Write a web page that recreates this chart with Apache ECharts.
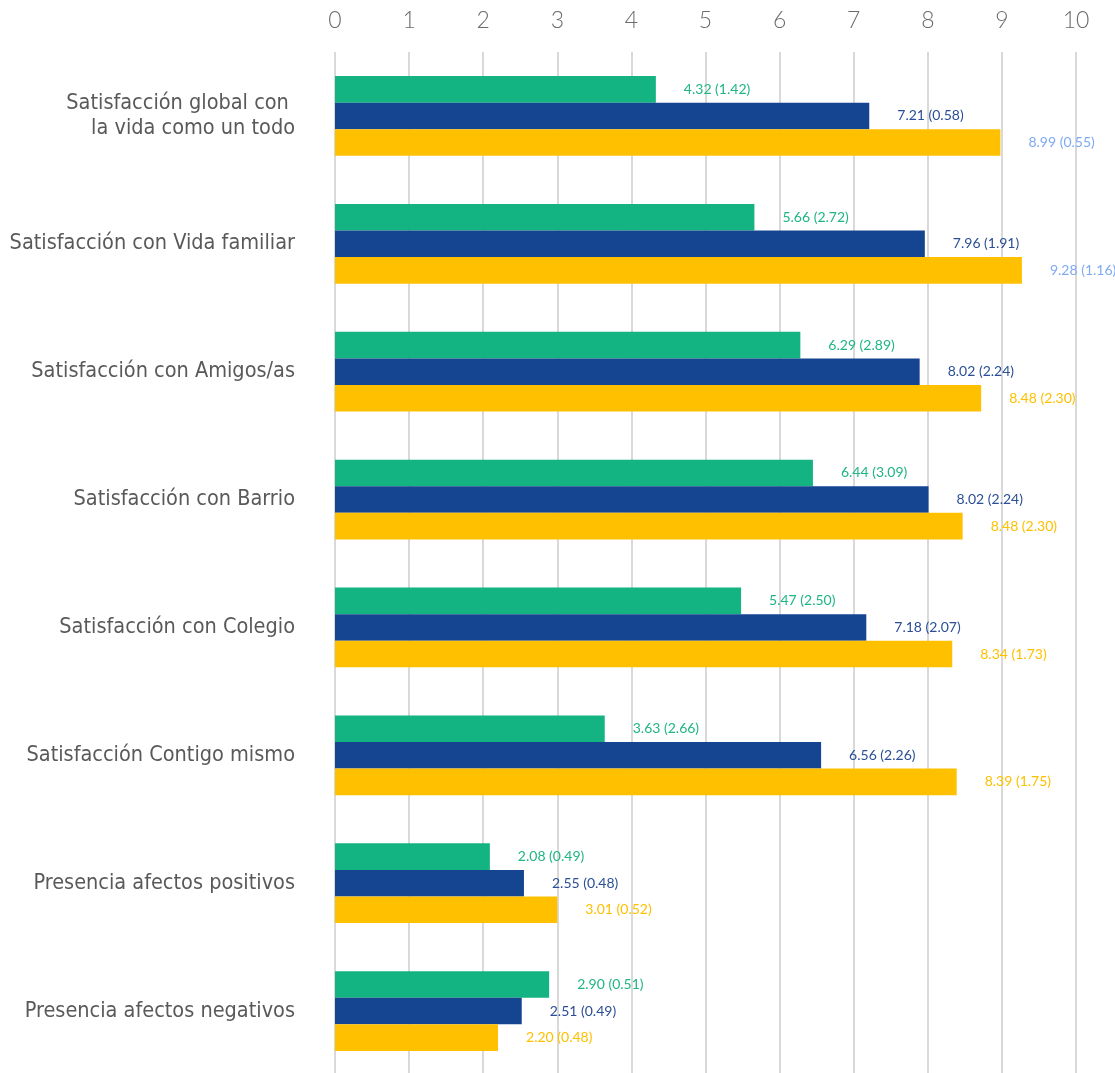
<!DOCTYPE html>
<html><head><meta charset="utf-8">
<script src="https://cdn.jsdelivr.net/npm/echarts@6/dist/echarts.min.js"></script>
<style>html,body{margin:0;padding:0;background:#fff}#c{width:1115px;height:1073px}</style>
</head><body><div id="c"></div>
<script>
const categories = ["Satisfacción global con \nla vida como un todo","Satisfacción con Vida familiar","Satisfacción con Amigos/as","Satisfacción con Barrio","Satisfacción con Colegio","Satisfacción Contigo mismo","Presencia afectos positivos","Presencia afectos negativos"];
const greenValues = [4.33, 5.66, 6.28, 6.45, 5.48, 3.64, 2.09, 2.89];
const blueValues = [7.21, 7.96, 7.89, 8.01, 7.17, 6.56, 2.55, 2.52];
const yellowValues = [8.98, 9.27, 8.72, 8.47, 8.33, 8.39, 3.0, 2.2];
const greenLabels = ["4.32 (1.42)","5.66 (2.72)","6.29 (2.89)","6.44 (3.09)","5.47 (2.50)","3.63 (2.66)","2.08 (0.49)","2.90 (0.51)"];
const blueLabels = ["7.21 (0.58)","7.96 (1.91)","8.02 (2.24)","8.02 (2.24)","7.18 (2.07)","6.56 (2.26)","2.55 (0.48)","2.51 (0.49)"];
const yellowLabels = ["8.99 (0.55)","9.28 (1.16)","8.48 (2.30)","8.48 (2.30)","8.34 (1.73)","8.39 (1.75)","3.01 (0.52)","2.20 (0.48)"];
const xTicks = ["0","1","2","3","4","5","6","7","8","9","10"];

const lblFont = '"Lato", "Open Sans", sans-serif';
function mk(name, vals, labels, color, lblColor, lblColorsPer) {
  return {
    name, type: 'bar', barWidth: 26.6, barGap: '0%',
    data: vals.map((v, i) => ({
      value: v,
      label: {
        show: true, position: 'right', distance: 28,
        formatter: labels[i],
        color: lblColorsPer ? lblColorsPer[i] : lblColor,
        fontSize: 14, fontFamily: lblFont
      }
    })),
    itemStyle: { color },
    emphasis: { disabled: true }
  };
}
const chart = echarts.init(document.getElementById('c'), null, { renderer: 'canvas' });
chart.setOption({
  animation: false,
  grid: { left: 335, right: 39, top: 52, bottom: -2, containLabel: false, outerBoundsMode: 'none' },
  xAxis: {
    type: 'value', position: 'top', min: 0, max: 10, interval: 1,
    axisLine: { show: false }, axisTick: { show: false },
    axisLabel: { color: '#6b6b6b', fontSize: 23, fontFamily: '"Lato", sans-serif', fontWeight: 300, margin: 20,
      formatter: v => xTicks[Math.round(v)] },
    splitLine: { show: true, lineStyle: { color: '#d9d9d9', width: 2 } }
  },
  yAxis: {
    type: 'category', inverse: true, data: categories,
    axisLine: { show: false }, axisTick: { show: false },
    axisLabel: { color: '#595959', fontSize: 21.5, fontFamily: '"Liberation Sans Narrow", "DejaVu Sans Condensed", sans-serif',
      margin: 40, align: 'right', lineHeight: 25 }
  },
  series: [
    mk('g', greenValues, greenLabels, '#13b382', '#20b585'),
    mk('b', blueValues, blueLabels, '#154591', '#2b4f96'),
    mk('y', yellowValues, yellowLabels, '#ffc000', '#ffc000', ['#7eaaf2','#7eaaf2','#ffc000','#ffc000','#ffc000','#ffc000','#ffc000','#ffc000'])
  ]
});
</script></body></html>
